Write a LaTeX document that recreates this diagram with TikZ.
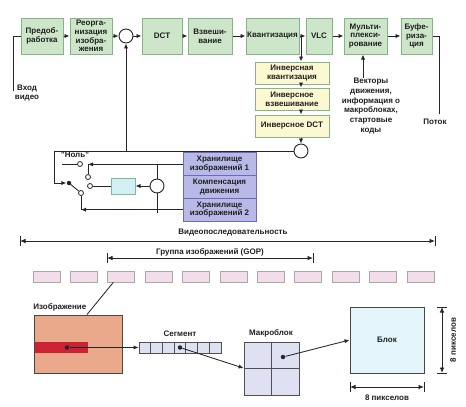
\documentclass[tikz,border=0pt]{standalone}
\usepackage{fontspec}
\setmainfont{Liberation Sans}
\usetikzlibrary{arrows.meta,calc}
\definecolor{gfill}{HTML}{CDE6C9}
\definecolor{gbord}{HTML}{86B486}
\definecolor{yfill}{HTML}{FCF8D2}
\definecolor{pfill}{HTML}{B9B9E8}
\definecolor{pbord}{HTML}{6A6AC0}
\definecolor{cfill}{HTML}{D3EEF4}
\definecolor{cbord}{HTML}{7DBB95}
\definecolor{ffill}{HTML}{F3DDEB}
\definecolor{fbord}{HTML}{A8A8A8}
\definecolor{ifill}{HTML}{EBA98C}
\definecolor{rfill}{HTML}{CC2233}
\definecolor{sfill}{HTML}{E0E0F3}
\definecolor{bfill}{HTML}{E3F5FA}
\definecolor{linec}{HTML}{262626}
\begin{document}
\begin{tikzpicture}[x=1pt,y=-1pt,
  every path/.style={draw=linec, line width=0.85pt},
  txt/.style={font=\fontsize{8}{8.8}\selectfont\bfseries, text=black!88, align=center, inner sep=0pt},
  gbox/.style={txt, draw=gbord, fill=gfill, line width=1pt, minimum height=36pt},
  ybox/.style={txt, draw=gbord, fill=yfill, line width=1pt, minimum width=74pt, minimum height=22pt},
  pbox/.style={txt, draw=pbord, fill=pfill, line width=1pt, minimum width=73pt, minimum height=22.67pt},
  circ/.style={circle, draw=linec, fill=white, line width=0.9pt, minimum size=14pt, inner sep=0pt},
  sc/.style={circle, draw=linec, fill=white, line width=0.8pt, minimum size=5pt, inner sep=0pt},
  dot/.style={circle, fill=linec, draw=none, minimum size=4.5pt, inner sep=0pt},
  arr/.style={-{Latex[length=5pt,width=4.2pt]}},
  darr/.style={{Latex[length=5.5pt,width=4.5pt]}-{Latex[length=5.5pt,width=4.5pt]}},
  frm/.style={draw=fbord, fill=ffill, line width=0.8pt, minimum width=27pt, minimum height=11pt, inner sep=0pt},
  cell/.style={draw=linec!80, fill=sfill, line width=0.8pt, minimum width=11.714pt, minimum height=11pt, inner sep=0pt},
  mbc/.style={draw=linec!80, fill=sfill, line width=0.8pt, minimum width=27.5pt, minimum height=26.5pt, inner sep=0pt}
]
\useasboundingbox[fill=white, draw=none] (0,0) rectangle (466,407);

% ---------- top row ----------
\node[gbox, minimum width=42pt] (pre) at (42,36) {Предоб-\\работка};
\node[gbox, minimum width=42pt] (reo) at (91,36) {Реорга-\\низация\\изобра-\\жения};
\node[circ] (sum) at (126,36) {};
\node[gbox, minimum width=40pt] (dct) at (162,36) {DCT};
\node[gbox, minimum width=44pt] (wgt) at (210,36) {Взвеши-\\вание};
\node[gbox, minimum width=53pt] (qnt) at (272.5,36) {Квантизация};
\node[gbox, minimum width=26pt] (vlc) at (319,36) {VLC};
\node[gbox, minimum width=43pt] (mux) at (365.5,36) {Мульти-\\плекси-\\рование};
\node[gbox, minimum width=31pt] (buf) at (416.5,36) {Буфе-\\риза-\\ция};

\draw[arr] (pre) -- (reo);
\draw[arr] (reo) -- (sum);
\draw[arr] (sum) -- (dct);
\draw[arr] (dct) -- (wgt);
\draw[arr] (wgt) -- (qnt);
\draw[arr] (qnt) -- (vlc);
\draw[arr] (vlc) -- (mux);
\draw[arr] (mux) -- (buf);

% input / output
\node[txt] (vin) at (27,93) {Вход\\видео};
\coordinate (vinend) at (13,91);
\draw (pre.west) -| (vinend);
\node[txt] (out) at (435,122) {Поток};
\coordinate (outtop) at (439,36);
\draw (buf.east) -- (outtop) -- ([xshift=4pt,yshift=5pt]out.north);

% mux side information
\node[txt, font=\fontsize{8}{9.8}\selectfont\bfseries] (vec) at (371,106)
  {Векторы\\движения,\\информация о\\макроблоках,\\стартовые\\коды};
\draw[arr] ([xshift=-8pt]vec.north) -- ([xshift=-2.5pt]mux.south);

% ---------- inverse chain ----------
\node[ybox] (iq) at (292,73) {Инверсная\\квантизация};
\node[ybox] (iw) at (292,99) {Инверсное\\взвешивание};
\node[ybox] (idct) at (292,126) {Инверсное DCT};
\node[circ] (fb) at (301,151) {};
\coordinate (qv) at (301,36);
\draw[arr] (qv) -- ([xshift=9pt]iq.north);
\draw[arr] ([xshift=9pt]iq.south) -- ([xshift=9pt]iw.north);
\draw[arr] ([xshift=9pt]iw.south) -- ([xshift=9pt]idct.north);
\draw[arr] ([xshift=9pt]idct.south) -- (fb.north);

% ---------- prediction loop ----------
\node[pbox] (st1) at (219.5,164.33) {Хранилище\\изображений 1};
\node[pbox] (mcb) at (219.5,187) {Компенсация\\движения};
\node[pbox] (st2) at (219.5,209.67) {Хранилище\\изображений 2};

\node[dot] (piv) at (69,183) {};
\coordinate (fl) at (54,151);
\coordinate (sj) at (126,151);
\draw[arr] (fb.west) -- (fl) |- (piv.west);
\draw[arr] (sj) -- (sum.south);

\node[txt] (nul) at (75,155) {"Ноль"};
\node[sc] (c1) at (80,164) {};
\coordinate (nl) at (62,164);
\draw (nl) -- (c1.west);

\node[sc] (c2) at (88,177) {};
\draw (c2.north) -- (c2.north |- st1.west);
\draw[arr] (st1.west) -- (c2.north |- st1.west);

\node[circ] (mc) at (157,186) {};
\coordinate (mctop) at (157,164.33);
\coordinate (mcbot) at (157,213);
\draw (mctop) -- (mc.north);
\draw (mc.south) -- (mcbot);
\node[draw=cbord, fill=cfill, line width=1pt, minimum width=24pt, minimum height=16pt, inner sep=0pt] (cyb) at (123,186) {};
\draw[arr] (mc.west) -- (cyb.east);
\node[sc] (c3) at (90,186) {};
\draw (cyb.west) -- (c3.east);

\node[sc] (c4) at (81,193) {};
\draw (piv.center) -- (c4);
\draw (c4.south) -- (c4.south |- st2.west);
\draw[arr] (st2.west) -- (c4.south |- st2.west);

% ---------- sequence / GOP ----------
\node[txt] (seql) at (233,233) {Видеопоследовательность};
\coordinate (vs1) at (20,241);
\coordinate (vs2) at (435,241);
\draw[darr] (vs1) -- (vs2);
\draw ($(vs1)+(0,-5)$) -- ($(vs1)+(0,5)$);
\draw ($(vs2)+(0,-5)$) -- ($(vs2)+(0,5)$);

\node[txt] (gopl) at (210,252) {Группа изображений (GOP)};
\coordinate (g1) at (107,258);
\coordinate (g2) at (313,258);
\draw[darr] (g1) -- (g2);
\draw ($(g1)+(0,-5)$) -- ($(g1)+(0,5)$);
\draw ($(g2)+(0,-5)$) -- ($(g2)+(0,5)$);

\foreach \i in {0,...,10}
  \node[frm] (f\i) at ({46.5+37.4*\i},276.5) {};

% ---------- picture / slice / macroblock / block ----------
\node[draw=linec!85, fill=ifill, line width=1pt, minimum width=88pt, minimum height=58pt, inner sep=0pt] (img) at (78,344) {};
\node[txt, anchor=west] (imgl) at (33,307) {Изображение};
\draw ([xshift=-8pt]f2.south) -- ([xshift=9pt]img.north);
\node[draw=none, fill=rfill, minimum width=53pt, minimum height=11pt, inner sep=0pt] (strip) at (61,347.5) {};
\node[dot] (d1) at (67,347.5) {};

\foreach \i in {0,...,6}
  \node[cell] (s\i) at ({139+11.714*(\i+0.5)},347.5) {};
\node[txt] (segl) at (180,334) {Сегмент};
\draw[arr] (d1) -- (s0.west);
\node[dot] (d2) at (s3.center) {};

\node[mbc] (m1) at (257.75,355.25) {};
\node[mbc] (m2) at (285.25,355.25) {};
\node[mbc] (m3) at (257.75,381.75) {};
\node[mbc] (m4) at (285.25,381.75) {};
\node[txt] (mbl) at (271,333) {Макроблок};
\draw[arr] (d2) -- (m3.north west);
\node[dot] (d3) at (283,357) {};

\node[txt, draw=linec!85, fill=bfill, line width=1pt, minimum width=74pt, minimum height=66pt] (blk) at (387,340) {Блок};
\draw[arr] (d3) -- (blk.west);

\coordinate (v1) at (442,307);
\coordinate (v2) at (442,373);
\draw[darr] (v1) -- (v2);
\draw ($(v1)+(-5,0)$) -- ($(v1)+(5,0)$);
\draw ($(v2)+(-5,0)$) -- ($(v2)+(5,0)$);
\node[txt, rotate=90] (vl) at (453,340) {8 пикселов};

\coordinate (h1) at (350,387);
\coordinate (h2) at (424,387);
\draw[darr] (h1) -- (h2);
\draw ($(h1)+(0,-5)$) -- ($(h1)+(0,5)$);
\draw ($(h2)+(0,-5)$) -- ($(h2)+(0,5)$);
\node[txt] (hl) at (387,398) {8 пикселов};
\end{tikzpicture}
\end{document}
